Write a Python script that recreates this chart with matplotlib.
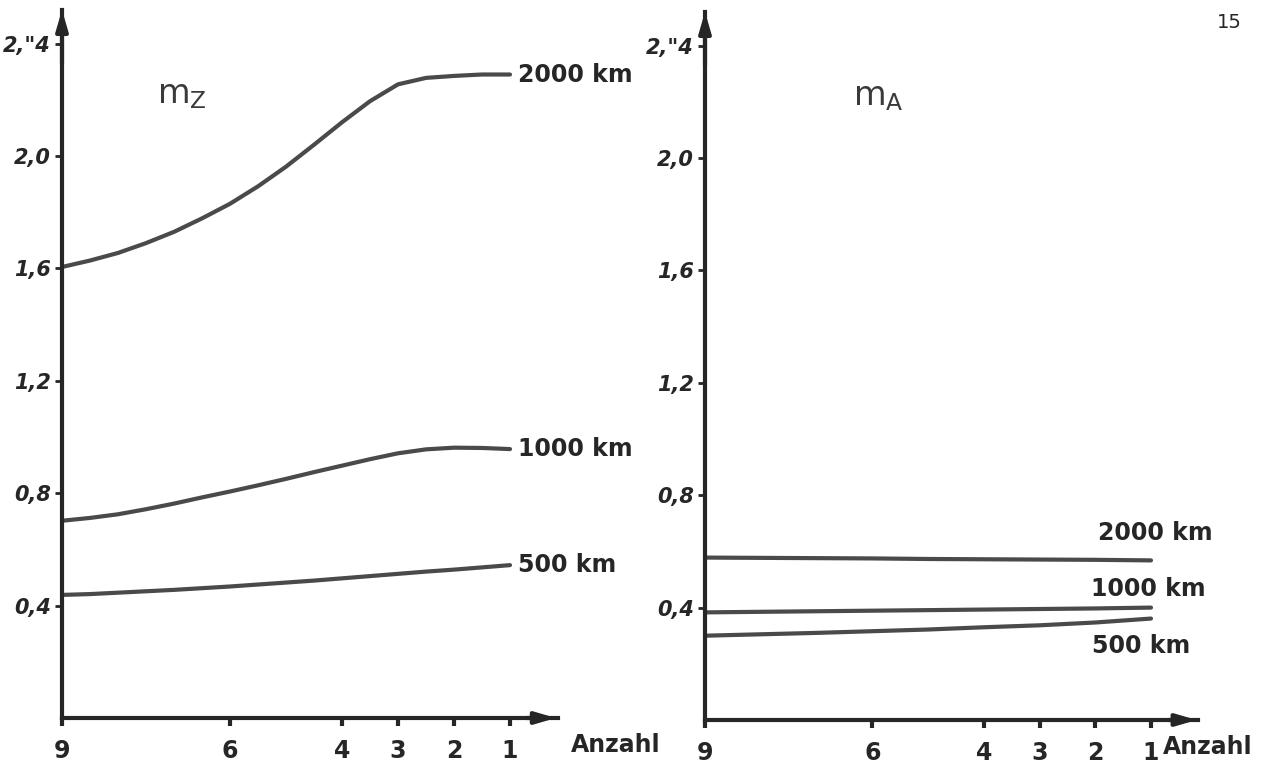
import matplotlib
matplotlib.use("Agg")
import matplotlib.pyplot as plt

# ---- data ----
anzahl_left = [9, 8.5, 8, 7.5, 7, 6.5, 6, 5.5, 5, 4.5, 4, 3.5, 3, 2.5, 2, 1.5, 1]
anzahl_right = [9, 8, 7, 6, 5, 4, 3, 2, 1]
xticks = [9, 6, 4, 3, 2, 1]
yticks = [0.4, 0.8, 1.2, 1.6, 2.0, 2.4]
ytick_labels = ["0,4", "0,8", "1,2", "1,6", "2,0", '2,"4']

mz_2000 = [1.605, 1.628, 1.655, 1.69, 1.73, 1.778, 1.83, 1.892, 1.962, 2.04, 2.12,
           2.195, 2.255, 2.278, 2.285, 2.29, 2.29]
mz_1000 = [0.702, 0.712, 0.725, 0.743, 0.763, 0.785, 0.806, 0.828, 0.851, 0.875,
           0.898, 0.921, 0.942, 0.956, 0.962, 0.961, 0.957]
mz_500 = [0.438, 0.441, 0.446, 0.451, 0.456, 0.462, 0.468, 0.475, 0.482, 0.489,
          0.497, 0.505, 0.513, 0.521, 0.528, 0.536, 0.544]

ma_2000 = [0.578, 0.577, 0.576, 0.575, 0.573, 0.572, 0.571, 0.570, 0.568]
ma_1000 = [0.383, 0.385, 0.387, 0.389, 0.391, 0.393, 0.395, 0.397, 0.400]
ma_500 = [0.300, 0.305, 0.310, 0.316, 0.322, 0.330, 0.337, 0.347, 0.361]

series_labels = ["2000 km", "1000 km", "500 km"]

AX_C = "#262626"
LN_C = "#4a4a4a"
W, H = 1266, 774

fig = plt.figure(figsize=(W / 100, H / 100), dpi=100)
fig.patch.set_facecolor("white")

XMIN, XMAX = 9, 0.15
YMIN, YMAX = 0, 2.52


def make_axes(left_px, bottom_px, unit_x, unit_y):
    width = (XMIN - XMAX) * unit_x
    height = (YMAX - YMIN) * unit_y
    ax = fig.add_axes([left_px / W, (H - bottom_px) / H, width / W, height / H])
    ax.set_xlim(XMIN, XMAX)
    ax.set_ylim(YMIN, YMAX)
    for s in ("top", "right"):
        ax.spines[s].set_visible(False)
    for s in ("left", "bottom"):
        ax.spines[s].set_color(AX_C)
        ax.spines[s].set_linewidth(3)
    ax.set_xticks(xticks)
    ax.set_xticklabels([str(t) for t in xticks], fontsize=17, fontweight="bold",
                       color=AX_C)
    ax.set_yticks(yticks)
    ax.set_yticklabels(ytick_labels, fontsize=15, fontweight="bold",
                       fontstyle="italic", color=AX_C)
    ax.tick_params(axis="x", length=6, width=3, color=AX_C, pad=9)
    ax.tick_params(axis="y", length=5, width=2, color=AX_C, pad=3)
    ax.patch.set_alpha(0)
    # arrow heads
    ax.annotate("", xy=(XMIN, YMAX + 0.01), xytext=(XMIN, YMAX - 0.2),
                arrowprops=dict(arrowstyle="-|>,head_length=1.2,head_width=0.35",
                                lw=3, color=AX_C), annotation_clip=False)
    ax.annotate("", xy=(XMAX - 0.02, 0), xytext=(XMAX + 0.6, 0),
                arrowprops=dict(arrowstyle="-|>,head_length=1.2,head_width=0.35",
                                lw=3, color=AX_C), annotation_clip=False)
    return ax


lab_kw = dict(fontsize=17, fontweight="bold", va="center", ha="left", color=AX_C)

# ---- left panel: m_Z ----
axL = make_axes(62, 718, 56, 281)
for ys in (mz_2000, mz_1000, mz_500):
    axL.plot(anzahl_left, ys, color=LN_C, lw=3, solid_capstyle="round",
             solid_joinstyle="round", clip_on=False)
axL.text(0.86, mz_2000[-1], series_labels[0], **lab_kw)
axL.text(0.86, mz_1000[-1], series_labels[1], **lab_kw)
axL.text(0.86, mz_500[-1], series_labels[2], **lab_kw)
axL.text(7.3, 2.22, r"$\mathsf{m_Z}$", fontsize=24, color="#3a3a3a",
         va="center", ha="left")
axL.text(-0.08, -0.095, "Anzahl", fontsize=17, fontweight="bold",
         va="center", ha="left", color=AX_C, clip_on=False)

# ---- right panel: m_A ----
axR = make_axes(705, 720, 55.75, 281)
for ys in (ma_2000, ma_1000, ma_500):
    axR.plot(anzahl_right, ys, color=LN_C, lw=3, solid_capstyle="round",
             solid_joinstyle="round", clip_on=False)
axR.text(1.95, 0.665, series_labels[0], **lab_kw)
axR.text(2.08, 0.465, series_labels[1], **lab_kw)
axR.text(2.05, 0.265, series_labels[2], **lab_kw)
axR.text(6.35, 2.22, r"$\mathsf{m_A}$", fontsize=24, color="#3a3a3a",
         va="center", ha="left")
axR.text(0.78, -0.095, "Anzahl", fontsize=17, fontweight="bold",
         va="center", ha="left", color=AX_C, clip_on=False)

fig.text(1229 / W, 1 - 22 / H, "15", fontsize=14, ha="center", va="center",
         color=AX_C)

fig.savefig("out.png", dpi=100, facecolor="white")
